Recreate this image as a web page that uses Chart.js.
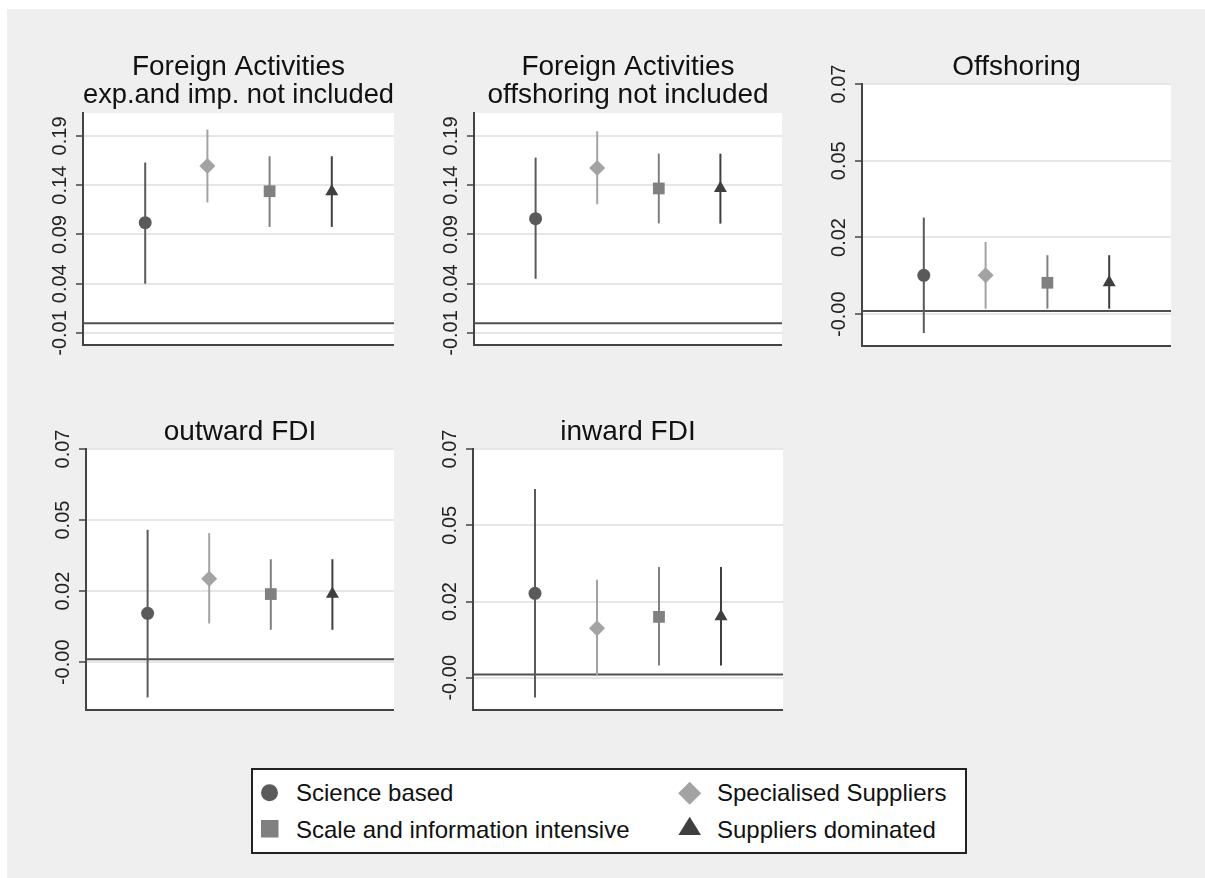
<!DOCTYPE html>
<html lang="en">
<head>
  <meta charset="UTF-8" />
  <title>Foreign activities coefficients by sector</title>
  <script src="https://cdn.jsdelivr.net/npm/chart.js"></script>
  <style>
    html, body { margin: 0; overflow: hidden; }
    body { background: #efefef; width: 1205px; height: 878px; position: relative;
           font-family: "Liberation Sans", Arial, sans-serif; }
    #edgeTop { position: absolute; left: 0; top: 0; width: 1205px; height: 9px; background: #fff; }
    #edgeLeft { position: absolute; left: 0; top: 0; width: 7px; height: 878px; background: #fff; }
    canvas { position: absolute; }
    #legend { position: absolute; left: 251px; top: 768px; width: 716px; height: 86px; box-sizing: border-box;
              border: 2px solid #222; background: #fff; }
    .lg { position: absolute; font-size: 24px; line-height: 24px; color: #111; white-space: nowrap; }
  </style>
</head>
<body>
  <div id="edgeTop"></div>
  <div id="edgeLeft"></div>

  <canvas id="p0" width="361" height="307" style="left:33px;top:53px"></canvas>
  <canvas id="p1" width="358" height="307" style="left:424px;top:53px"></canvas>
  <canvas id="p2" width="359" height="308" style="left:812px;top:53px"></canvas>
  <canvas id="p3" width="358" height="307" style="left:36px;top:418px"></canvas>
  <canvas id="p4" width="360" height="307" style="left:423px;top:418px"></canvas>

  <div id="legend">
    <svg width="712" height="82" style="position:absolute;left:0;top:0">
      <circle cx="16.5" cy="22.7" r="8.5" fill="#5a5a5a" />
      <rect x="8" y="50" width="17.5" height="17.5" fill="#808080" />
      <polygon points="436.7,11.8 448.2,23.3 436.7,34.8 425.2,23.3" fill="#a3a3a3" />
      <polygon points="436.7,46.7 448,65 425.4,65" fill="#3f3f3f" />
    </svg>
    <div class="lg" style="left:43px;top:11px">Science based</div>
    <div class="lg" style="left:43px;top:48px">Scale and information intensive</div>
    <div class="lg" style="left:464px;top:11px">Specialised Suppliers</div>
    <div class="lg" style="left:464px;top:48px">Suppliers dominated</div>
  </div>

  <script>
    // panels and series
    const panelTitles = [
      ['Foreign Activities', 'exp.and imp. not included'],
      ['Foreign Activities', 'offshoring not included'],
      ['Offshoring'],
      ['outward FDI'],
      ['inward FDI']
    ];
    const categories = ['Science based', 'Specialised Suppliers', 'Scale and information intensive', 'Suppliers dominated'];

    // point estimates and confidence bounds, one value per panel
    const scienceEst = [0.102, 0.106, 0.011, 0.0153, 0.0252];
    const scienceLo  = [0.040, 0.045, -0.0068, -0.0127, -0.0071];
    const scienceHi  = [0.163, 0.168, 0.0288, 0.0431, 0.0576];
    const specEst = [0.1596, 0.1575, 0.011, 0.0268, 0.0144];
    const specLo  = [0.1225, 0.1207, 0.0007, 0.0119, -0.0003];
    const specHi  = [0.1965, 0.1948, 0.0213, 0.042, 0.0294];
    const scaleEst = [0.1339, 0.1367, 0.0087, 0.0217, 0.0179];
    const scaleLo  = [0.0977, 0.1012, 0.0007, 0.0098, 0.0028];
    const scaleHi  = [0.1694, 0.1721, 0.0172, 0.0333, 0.0334];
    const suppEst = [0.1335, 0.137, 0.0088, 0.0217, 0.018];
    const suppLo  = [0.0977, 0.101, 0.0007, 0.0098, 0.0028];
    const suppHi  = [0.1694, 0.172, 0.0172, 0.0333, 0.0334];

    // y axis ticks
    const wideTicks = [-0.01, 0.04, 0.09, 0.14, 0.19];
    const wideLabels = ['-0.01', '0.04', '0.09', '0.14', '0.19'];
    const narrowTicks = [-0.001, 0.02267, 0.04633, 0.07];
    const narrowLabels = ['-0.00', '0.02', '0.05', '0.07'];
    const yMin = [-0.0222, -0.0222, -0.0108, -0.0169, -0.011];
    const yMax = [0.2133, 0.2133, 0.07, 0.07, 0.07];

    const est = [scienceEst, specEst, scaleEst, suppEst];
    const lo = [scienceLo, specLo, scaleLo, suppLo];
    const hi = [scienceHi, specHi, scaleHi, suppHi];
    const colors = ['#5a5a5a', '#a3a3a3', '#808080', '#3f3f3f'];
    const shapes = ['circle', 'rectRot', 'rect', 'triangle'];
    const sizes = [6.5, 8, 8.3, 7.5];
    const titlePad = [4, 4, 3, 3, 3];
    const FONT = '"Liberation Sans", Arial, sans-serif';

    const plotBg = {
      id: 'plotBg',
      beforeDraw(chart) {
        const a = chart.chartArea, ctx = chart.ctx;
        ctx.save();
        ctx.fillStyle = '#fff';
        ctx.fillRect(a.left, a.top, a.right - a.left, a.bottom - a.top);
        ctx.restore();
      }
    };

    panelTitles.forEach((title, p) => {
      const ticks = p < 2 ? wideTicks : narrowTicks;
      const labels = p < 2 ? wideLabels : narrowLabels;
      const datasets = [{
        type: 'line',
        data: [{ x: 0, y: 0 }, { x: 5, y: 0 }],
        borderColor: '#505050', borderWidth: 2, pointRadius: 0, order: 20
      }];
      categories.forEach((name, i) => {
        datasets.push({
          type: 'line', label: name + ' CI',
          data: [{ x: i + 1, y: lo[i][p] }, { x: i + 1, y: hi[i][p] }],
          borderColor: colors[i], borderWidth: 2, pointRadius: 0, order: 10
        });
        datasets.push({
          type: 'scatter', label: name,
          data: [{ x: i + 1, y: est[i][p] }],
          pointStyle: shapes[i], pointRadius: sizes[i], pointBackgroundColor: colors[i],
          pointBorderWidth: 0, borderWidth: 0, order: 1
        });
      });

      new Chart(document.getElementById('p' + p), {
        type: 'scatter',
        data: { datasets },
        plugins: [plotBg],
        options: {
          responsive: false,
          animation: false,
          events: [],
          layout: { autoPadding: false, padding: 0 },
          plugins: {
            legend: { display: false },
            tooltip: { enabled: false },
            title: {
              display: true, text: title, fullSize: false, color: '#111',
              font: { family: FONT, size: 28, weight: 'normal', lineHeight: 1 },
              padding: { top: 0, bottom: titlePad[p] }
            }
          },
          scales: {
            x: {
              type: 'linear', min: 0, max: 5,
              ticks: { display: false },
              grid: { display: false },
              border: { display: true, color: '#444', width: 2 },
              afterFit(s) { s.height = 15; }
            },
            y: {
              min: yMin[p], max: yMax[p],
              afterBuildTicks(s) { s.ticks = ticks.map(v => ({ value: v })); },
              ticks: {
                minRotation: 90, maxRotation: 90, crossAlign: 'center', padding: -7,
                color: '#222', font: { family: FONT, size: 20 },
                callback: (v, i) => labels[i]
              },
              grid: { color: '#e6e6e6', lineWidth: 2, tickColor: '#444', tickLength: 7, tickWidth: 1.5 },
              border: { display: true, color: '#444', width: 2 },
              afterFit(s) { s.width = 50; }
            }
          }
        }
      });
    });
  </script>
</body>
</html>
